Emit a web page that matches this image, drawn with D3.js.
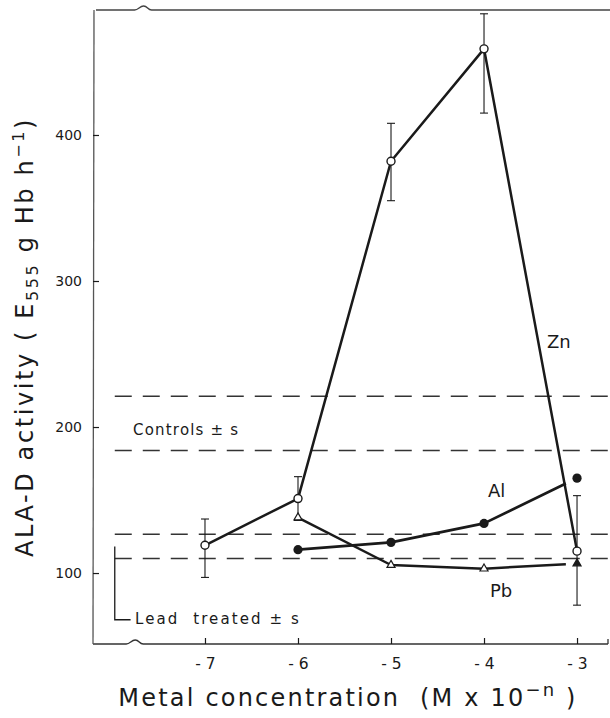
<!DOCTYPE html>
<html><head><meta charset="utf-8">
<script src="https://cdn.jsdelivr.net/npm/d3@7"></script>
<style>
html,body{margin:0;padding:0;background:#fff;}
svg{display:block;}
text{font-family:"DejaVu Sans",sans-serif;fill:#1a1a1a;}
</style></head>
<body>
<svg id="c" width="610" height="718"></svg>
<script>
// ---- data ----
const concentrations = [-7, -6, -5, -4, -3];
const znMean  = [119, 151, 382, 459, 115];
const znUpper = [137, 166, 408, 483, 153];
const znLower = [97, 136, 355, 415, 78];
const alConc = [-6, -5, -4, -3];
const alMean = [116, 121, 134, 165];
const pbConc = [-6, -5, -4, -3];
const pbMean = [138, 105.5, 103, 106.5];
const controlBand = [184, 221];
const leadBand = [110, 126.5];
const yTicks = [100, 200, 300, 400];
const xTicks = [-7, -6, -5, -4, -3];

const svg = d3.select("#c");
const x = d3.scaleLinear().domain([-8.204, -2.667]).range([93, 608]);
const y = d3.scaleLinear().domain([51.4, 485.6]).range([644, 10]);

const ink = "#1a1a1a";

// frame with scale breaks
function brokenLine(x0, x1, yy, xb) {
  const p = d3.path();
  p.moveTo(x0, yy);
  p.lineTo(xb - 9, yy);
  p.bezierCurveTo(xb - 5, yy, xb - 4, yy - 4, xb, yy - 4);
  p.bezierCurveTo(xb + 4, yy - 4, xb + 4, yy, xb + 8, yy);
  p.lineTo(x1, yy);
  return p.toString();
}
svg.append("path").attr("d", brokenLine(x(-8.204) + 3, 610, y(485.6), x(-7.66)))
  .attr("fill", "none").attr("stroke", "#444").attr("stroke-width", 1.4);
svg.append("path").attr("d", brokenLine(x(-8.204), x(-2.667), y(51.4), x(-7.75)))
  .attr("fill", "none").attr("stroke", "#333").attr("stroke-width", 1.4);
svg.append("line").attr("x1", x(-8.204)).attr("x2", x(-8.204) + 1)
  .attr("y1", y(51.4)).attr("y2", y(485.6)).attr("stroke", "#555").attr("stroke-width", 1.3);
svg.append("line").attr("x1", x(-2.667)).attr("x2", x(-2.667))
  .attr("y1", y(51.4)).attr("y2", y(51.4) - 5).attr("stroke", "#333").attr("stroke-width", 1.3);

// axes
const yAxis = d3.axisLeft(y).tickValues(yTicks).tickSizeInner(-6).tickSizeOuter(0).tickPadding(11);
const gy = svg.append("g").attr("transform", `translate(${x(-8.204)},0)`).call(yAxis);
gy.select(".domain").remove();
gy.selectAll(".tick line").attr("stroke", ink).attr("stroke-width", 1.2);
gy.selectAll(".tick text").attr("font-size", 14).attr("fill", ink)
  .style("font-family", "'DejaVu Sans', sans-serif");

const xAxis = d3.axisBottom(x).tickValues(xTicks).tickSizeInner(-6).tickSizeOuter(0).tickPadding(14)
  .tickFormat(d => "- " + Math.abs(d));
const gx = svg.append("g").attr("transform", `translate(0,${y(51.4)})`).call(xAxis);
gx.select(".domain").remove();
gx.selectAll(".tick line").attr("stroke", ink).attr("stroke-width", 1.2);
gx.selectAll(".tick text").attr("font-size", 15.5).attr("fill", ink)
  .style("font-family", "'DejaVu Sans', sans-serif");

// dashed bands
[...controlBand, ...leadBand].forEach(v => {
  svg.append("line").attr("x1", x(-7.97)).attr("x2", 610)
    .attr("y1", y(v)).attr("y2", y(v))
    .attr("stroke", "#333").attr("stroke-width", 1.5)
    .attr("stroke-dasharray", "17,11");
});
svg.append("text").attr("x", 133).attr("y", y(194.5)).attr("font-size", 15)
  .attr("letter-spacing", 1.2).text("Controls ± s");
// lead bracket
svg.append("path")
  .attr("d", `M${x(-7.97)},${y(leadBand[0]) - 12} L${x(-7.97)},${y(68)} L${x(-7.8)},${y(68)}`)
  .attr("fill", "none").attr("stroke", ink).attr("stroke-width", 1.3);
svg.append("text").attr("x", 135).attr("y", y(68) + 4).attr("font-size", 15)
  .attr("letter-spacing", 2.1).attr("xml:space", "preserve").text("Lead  treated ± s");

// error bars for Zn
const cap = 4;
concentrations.forEach((c, i) => {
  const g = svg.append("g").attr("stroke", ink).attr("stroke-width", 1.1);
  g.append("line").attr("x1", x(c)).attr("x2", x(c)).attr("y1", y(znUpper[i])).attr("y2", y(znLower[i]));
  g.append("line").attr("x1", x(c) - cap).attr("x2", x(c) + cap).attr("y1", y(znUpper[i])).attr("y2", y(znUpper[i]));
  g.append("line").attr("x1", x(c) - cap).attr("x2", x(c) + cap).attr("y1", y(znLower[i])).attr("y2", y(znLower[i]));
});

// lines
function shortenedPoints(cs, vs, frac) {
  const pts = cs.map((c, i) => [x(c), y(vs[i])]);
  const n = pts.length;
  const a = pts[n - 2], b = pts[n - 1];
  pts[n - 1] = [a[0] + (b[0] - a[0]) * frac, a[1] + (b[1] - a[1]) * frac];
  return pts;
}
const line = d3.line();
svg.append("path").attr("d", line(shortenedPoints(pbConc, pbMean, 0.88)))
  .attr("fill", "none").attr("stroke", ink).attr("stroke-width", 2.5).attr("stroke-linejoin", "round");
svg.append("path").attr("d", line(shortenedPoints(alConc, alMean, 0.88)))
  .attr("fill", "none").attr("stroke", ink).attr("stroke-width", 2.7).attr("stroke-linejoin", "round");
svg.append("path").attr("d", line(concentrations.map((c, i) => [x(c), y(znMean[i])])))
  .attr("fill", "none").attr("stroke", ink).attr("stroke-width", 2.5).attr("stroke-linejoin", "round");

// markers
svg.selectAll(".zn").data(concentrations).join("circle")
  .attr("cx", d => x(d)).attr("cy", (d, i) => y(znMean[i])).attr("r", 4)
  .attr("fill", "#fff").attr("stroke", ink).attr("stroke-width", 1.4);
svg.selectAll(".al").data(alConc).join("circle")
  .attr("cx", d => x(d)).attr("cy", (d, i) => y(alMean[i])).attr("r", 4.6)
  .attr("fill", ink);
const tri = d3.symbol().type(d3.symbolTriangle).size(28);
svg.selectAll(".pb").data(pbConc).join("path")
  .attr("d", tri).attr("transform", (d, i) => `translate(${x(d)},${y(pbMean[i])})`)
  .attr("fill", (d, i) => i === pbConc.length - 1 ? ink : "#fff")
  .attr("stroke", ink).attr("stroke-width", 1.2);

// series labels
svg.append("text").attr("x", 547).attr("y", 348).attr("font-size", 18).text("Zn");
svg.append("text").attr("x", 488).attr("y", 497).attr("font-size", 18).text("Al");
svg.append("text").attr("x", 490).attr("y", 597).attr("font-size", 18).text("Pb");

// axis titles
const yt = svg.append("text").attr("transform", "translate(33,337) rotate(-90)")
  .attr("text-anchor", "middle").attr("font-size", 24).attr("letter-spacing", 2.6)
  .attr("xml:space", "preserve");
yt.append("tspan").text("ALA-D activity ( E");
yt.append("tspan").attr("font-size", 16).attr("dy", 5).text("555");
yt.append("tspan").attr("dy", -5).text(" g Hb h");
yt.append("tspan").attr("font-size", 16).attr("dy", -9).text("−1");
yt.append("tspan").attr("dy", 9).text(")");

const xt = svg.append("text").attr("x", 348).attr("y", 706)
  .attr("text-anchor", "middle").attr("font-size", 24).attr("letter-spacing", 2.2)
  .attr("xml:space", "preserve");
xt.append("tspan").text("Metal concentration  (M x 10");
xt.append("tspan").attr("font-size", 18).attr("dy", -10).text("−n");
xt.append("tspan").attr("dy", 10).text(" )");
</script>
</body></html>
